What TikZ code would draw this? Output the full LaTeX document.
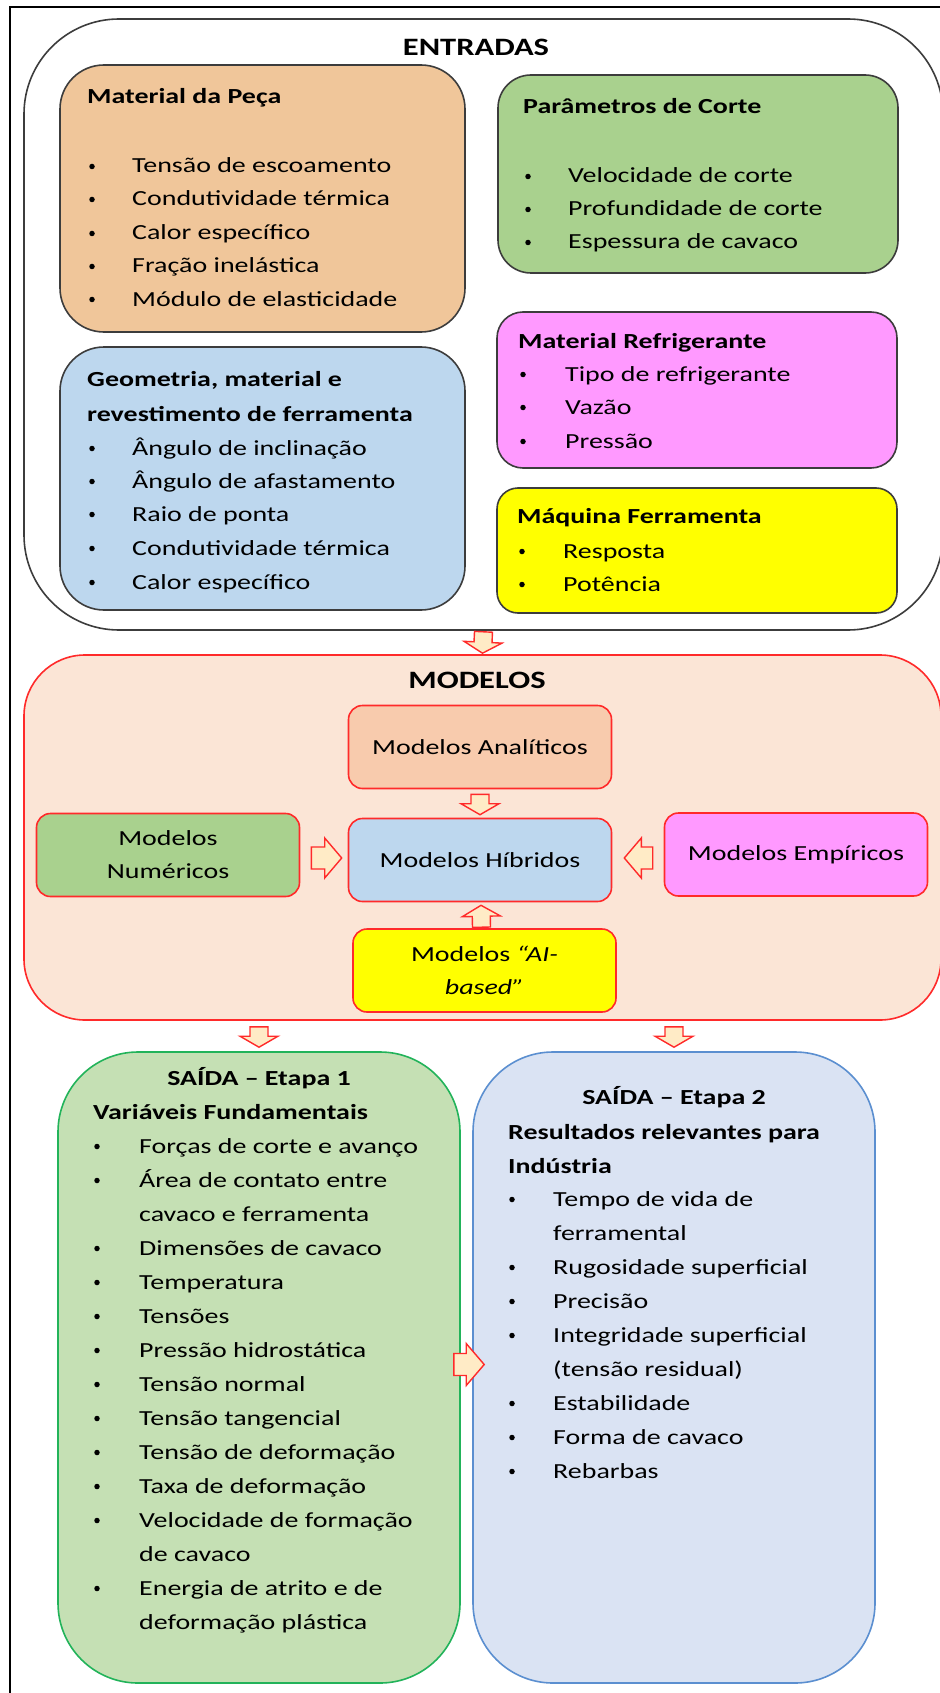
\documentclass[tikz,border=0pt]{standalone}
\usepackage{fontspec}
\setmainfont{Carlito}[FakeStretch=1.3]
\usetikzlibrary{calc}

\definecolor{linegray}{HTML}{3C3C3C}
\definecolor{modred}{HTML}{FF2A2A}
\definecolor{outgreen}{HTML}{22B35A}
\definecolor{outblue}{HTML}{5B8FD0}
\definecolor{arrowred}{HTML}{FF2A2A}
\definecolor{arrowfill}{HTML}{FFEBC6}
\definecolor{peach}{HTML}{F0C69A}
\definecolor{leaf}{HTML}{A9D18E}
\definecolor{pinkish}{HTML}{FF99FF}
\definecolor{sunny}{HTML}{FFFF00}
\definecolor{skyblue}{HTML}{BDD7EE}
\definecolor{modbg}{HTML}{FBE5D6}
\definecolor{salmon}{HTML}{F8CBAD}
\definecolor{paleleaf}{HTML}{C5E0B4}
\definecolor{paleblue}{HTML}{DAE3F3}

\newcommand\txtsize{\fontsize{21.5}{33}\selectfont}
\newcommand\ttlsize{\fontsize{25}{30}\selectfont}

% bullet line: name, bullet x, text x, baseline, text
\newcommand\bitem[5]{%
  \node[bul] (#1b) at (#2,#4-6.5) {};
  \node[txt] (#1) at (#3,#4) {#5};}
% continuation line without bullet: name, text x, baseline, text
\newcommand\citem[4]{\node[txt] (#1) at (#2,#3) {#4};}

\tikzset{
  box/.style={draw=linegray, line width=1.6pt, rounded corners=#1, inner sep=0pt},
  mbox/.style={draw=modred, line width=1.6pt, rounded corners=14pt, inner sep=0pt,
    minimum width=263, minimum height=83, align=center, font=\txtsize},
  txt/.style={anchor=base west, inner sep=0pt, font=\txtsize},
  bul/.style={circle, fill=black, inner sep=0pt, minimum size=5.5pt},
  hd/.style={anchor=base west, inner sep=0pt, font=\txtsize\bfseries},
  ttl/.style={inner sep=0pt, font=\ttlsize\bfseries},
  barrow/.style n args={3}{draw=arrowred, fill=arrowfill, line width=1.4pt, line join=miter,
    to path={($(\tikztotarget)!#3!(\tikztostart)$) coordinate (bh)
      ($(\tikztostart)!#1!90:(\tikztotarget)$) -- ($(bh)!#1!90:(\tikztotarget)$)
      -- ($(bh)!#2!90:(\tikztotarget)$) -- (\tikztotarget)
      -- ($(bh)!#2!-90:(\tikztotarget)$) -- ($(bh)!#1!-90:(\tikztotarget)$)
      -- ($(\tikztostart)!#1!-90:(\tikztotarget)$) -- cycle}},
  varrow/.style={barrow={9pt}{19pt}{11pt}},
  harrow/.style={barrow={11pt}{20pt}{17pt}}
}

\begin{document}
\begin{tikzpicture}[x=1pt,y=-1pt]
\useasboundingbox (0,0) rectangle (939,1693);
\fill[white] (0,0) rectangle (939,1693);

% page frame
\draw[line width=1.6pt] (10,1710) -- (10,7) -- (960,7);

% ---------------- ENTRADAS ----------------
\node[box=95pt, fill=white, minimum width=919, minimum height=611] (ent) at (483.5,324.5) {};
\node[ttl] (entT) at (476,47) {ENTRADAS};

\node[box=44pt, fill=peach, minimum width=405, minimum height=267] (mp) at (262.5,198.5) {};
\node[hd] (mpT) at (87,104) {Material da Peça};
\bitem{mp1}{92}{132}{173}{Tensão de escoamento}
\bitem{mp2}{92}{132}{206}{Condutividade térmica}
\bitem{mp3}{92}{132}{240}{Calor específico}
\bitem{mp4}{92}{132}{273}{Fração inelástica}
\bitem{mp5}{92}{132}{306}{Módulo de elasticidade}

\node[box=44pt, fill=skyblue, minimum width=405, minimum height=263] (ge) at (262.5,478.5) {};
\node[hd] (geT1) at (87,386) {Geometria, material e};
\node[hd] (geT2) at (87,421) {revestimento de ferramenta};
\bitem{ge1}{92}{132}{455}{Ângulo de inclinação}
\bitem{ge2}{92}{132}{488}{Ângulo de afastamento}
\bitem{ge3}{92}{132}{521}{Raio de ponta}
\bitem{ge4}{92}{132}{555}{Condutividade térmica}
\bitem{ge5}{92}{132}{589}{Calor específico}

\node[box=33pt, fill=leaf, minimum width=400, minimum height=198] (pc) at (698,174) {};
\node[hd] (pcT) at (523,114) {Parâmetros de Corte};
\bitem{pc1}{528}{568}{183}{Velocidade de corte}
\bitem{pc2}{528}{568}{216}{Profundidade de corte}
\bitem{pc3}{528}{568}{249}{Espessura de cavaco}

\node[box=26pt, fill=pinkish, minimum width=400, minimum height=156] (mr) at (697,390) {};
\node[hd] (mrT) at (518,348) {Material Refrigerante};
\bitem{mr1}{523}{565}{381}{Tipo de refrigerante}
\bitem{mr2}{523}{565}{414}{Vazão}
\bitem{mr3}{523}{565}{448}{Pressão}

\node[box=21pt, fill=sunny, minimum width=400, minimum height=125] (mf) at (697,550.5) {};
\node[hd] (mfT) at (517,523) {Máquina Ferramenta};
\bitem{mf1}{522}{563}{558}{Resposta}
\bitem{mf2}{522}{563}{591}{Potência}

% ---------------- MODELOS ----------------
\node[box=61pt, draw=modred, fill=modbg, minimum width=917, minimum height=365] (mod) at (482.5,837.5) {};
\node[ttl] (modT) at (477,680) {MODELOS};

\node[mbox, fill=salmon] (ana) at (480,747) {Modelos Analíticos};
\node[mbox, fill=skyblue] (hib) at (480,860) {Modelos Híbridos};
\node[mbox, fill=leaf] (num) at (168,855) {Modelos\\Numéricos};
\node[mbox, fill=pinkish] (emp) at (796,854.5) {Modelos Empíricos};
\node[mbox, fill=sunny] (ai) at (484.5,970.5) {Modelos \textit{“AI-}\\\textit{based”}};

% ---------------- SAÍDAS ----------------
\node[box=80pt, draw=outgreen, fill=paleleaf, minimum width=402, minimum height=631] (s1) at (259,1367.5) {};
\node[hd, anchor=base] (s1T) at (259,1085) {SAÍDA – Etapa 1};
\node[hd] (s1S) at (93,1119) {Variáveis Fundamentais};
\bitem{sa1}{97}{139}{1153}{Forças de corte e avanço}
\bitem{sa2}{97}{139}{1187}{Área de contato entre}
\citem{sa3}{139}{1221}{cavaco e ferramenta}
\bitem{sa4}{97}{139}{1255}{Dimensões de cavaco}
\bitem{sa5}{97}{139}{1289}{Temperatura}
\bitem{sa6}{97}{139}{1323}{Tensões}
\bitem{sa7}{97}{139}{1357}{Pressão hidrostática}
\bitem{sa8}{97}{139}{1391}{Tensão normal}
\bitem{sa9}{97}{139}{1425}{Tensão tangencial}
\bitem{sa10}{97}{139}{1459}{Tensão de deformação}
\bitem{sa11}{97}{139}{1493}{Taxa de deformação}
\bitem{sa12}{97}{139}{1527}{Velocidade de formação}
\citem{sa13}{139}{1561}{de cavaco}
\bitem{sa14}{97}{139}{1595}{Energia de atrito e de}
\citem{sa15}{139}{1629}{deformação plástica}

\node[box=80pt, draw=outblue, fill=paleblue, minimum width=402, minimum height=631] (s2) at (674,1367.5) {};
\node[hd, anchor=base] (s2T) at (674,1104) {SAÍDA – Etapa 2};
\node[hd] (s2S1) at (508,1139) {Resultados relevantes para};
\node[hd] (s2S2) at (508,1173) {Indústria};
\bitem{sb1}{512}{553}{1206}{Tempo de vida de}
\citem{sb2}{553}{1240}{ferramental}
\bitem{sb3}{512}{553}{1274}{Rugosidade superficial}
\bitem{sb4}{512}{553}{1308}{Precisão}
\bitem{sb5}{512}{553}{1342}{Integridade superficial}
\citem{sb6}{553}{1376}{(tensão residual)}
\bitem{sb7}{512}{553}{1410}{Estabilidade}
\bitem{sb8}{512}{553}{1444}{Forma de cavaco}
\bitem{sb9}{512}{553}{1478}{Rebarbas}

% ---------------- block arrows ----------------
\draw[varrow] ($(ent.south)+(0,1)$) to ($(mod.north)+(0,-1)$);
\draw[varrow] ($(ana.south)+(0,5)$) to ($(hib.north)+(0,-3)$);
\draw[varrow] ($(ai.north)+(-3,-1)$) to ($(hib.south)+(1,3)$);
\draw[harrow] ($(num.east)+(11,3)$) to ($(hib.west)+(-6,-2)$);
\draw[harrow] ($(emp.west)+(-11,3.5)$) to ($(hib.east)+(12,-2)$);
\draw[varrow] ($(mod.south -| s1.north)+(0,6)$) to ($(s1.north)+(0,-4)$);
\draw[varrow] ($(mod.south -| s2.north)+(0,6)$) to ($(s2.north)+(0,-4)$);
\draw[barrow={11pt}{21pt}{18pt}] ($(s1.east)+(-7,-3)$) to ($(s2.west)+(12,-3)$);
\end{tikzpicture}
\end{document}
